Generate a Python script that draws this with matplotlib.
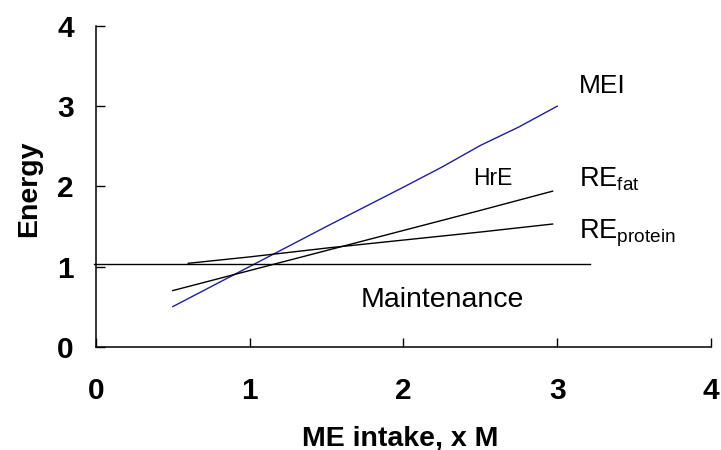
import numpy as np
import matplotlib.pyplot as plt

plt.rcParams['font.family'] = ['Liberation Sans', 'DejaVu Sans']

# data
mei_x = [0.5, 1.0, 1.5, 2.0, 2.25, 2.5, 2.75, 3.0]
mei_y = [0.5, 1.0, 1.5, 1.99, 2.24, 2.51, 2.74, 3.0]
fat_x = [0.5, 1.0, 1.5, 2.0, 2.5, 2.97]
fat_y = [0.7, 0.95, 1.2, 1.45, 1.7, 1.94]
prot_x = [0.6, 1.0, 1.5, 2.0, 2.5, 2.97]
prot_y = [1.04, 1.12, 1.23, 1.33, 1.43, 1.53]
maint_x = [-0.01, 3.21]
maint_y = [1.03, 1.03]
ticks = [0, 1, 2, 3, 4]

fig = plt.figure(figsize=(7.21, 4.5), dpi=100)
ax = fig.add_axes([0.1331, 0.2296, 0.853, 0.7126])

ax.plot(mei_x, mei_y, color='#1f1f9a', lw=1.0)
ax.plot(fat_x, fat_y, color='black', lw=1.0)
ax.plot(prot_x, prot_y, color='black', lw=1.0)
ax.plot(maint_x, maint_y, color='black', lw=1.0, clip_on=False)

ax.set_xlim(0, 4)
ax.set_ylim(0, 4)
ax.set_xticks(ticks)
ax.set_yticks(ticks)
for s in ['top', 'right']:
    ax.spines[s].set_visible(False)
for s in ['left', 'bottom']:
    ax.spines[s].set_linewidth(1.1)
ax.tick_params(direction='in', length=6.5, width=1.0, labelsize=21.5)
ax.tick_params(axis='x', pad=22)
ax.tick_params(axis='y', pad=16)
for lab in ax.get_xticklabels() + ax.get_yticklabels():
    lab.set_fontweight('bold')

ax.set_xlabel('ME intake, x M', fontsize=20.5, fontweight='bold', va='baseline')
ax.xaxis.set_label_coords(0.495, -0.307)
ax.set_ylabel('Energy', fontsize=20.5, fontweight='bold', va='baseline')
ax.yaxis.set_label_coords(-0.0976, 0.494)

ax.text(3.14, 3.17, 'MEI', fontsize=19, va='baseline')
ax.text(2.45, 2.02, 'HrE', fontsize=16.5, va='baseline')
ax.text(3.14, 2.0, r'RE$_{\mathregular{fat}}$', fontsize=19.5, va='baseline')
ax.text(3.14, 1.35, r'RE$_{\mathregular{protein}}$', fontsize=19.5, va='baseline')
ax.text(1.72, 0.50, 'Maintenance', fontsize=20.5, va='baseline')

fig.savefig('out.png', dpi=100)
